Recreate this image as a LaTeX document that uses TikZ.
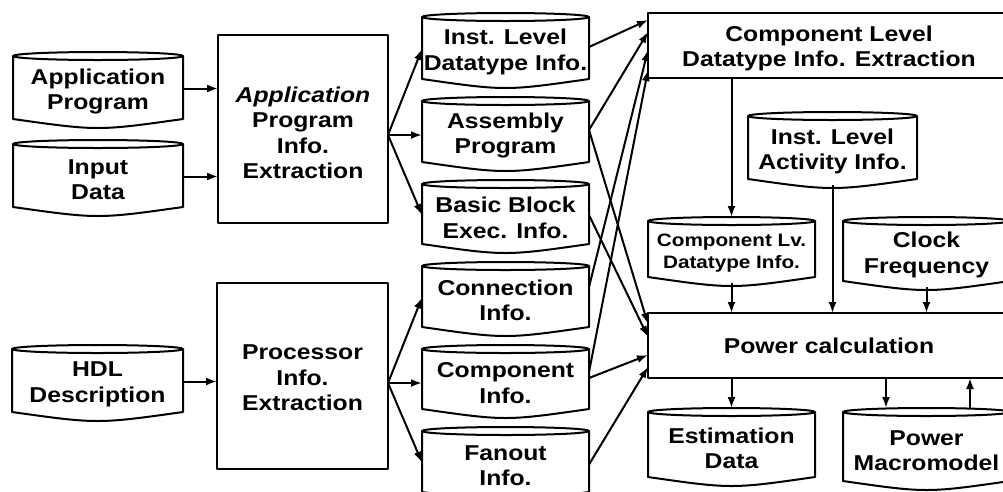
\documentclass[tikz,border=0pt]{standalone}
\usepackage{fontspec}
\newfontfamily\dfont[FakeStretch=1.15]{Liberation Sans}
\usetikzlibrary{arrows.meta,calc}
\tikzset{
  ln/.style={line width=2pt, line join=round},
  arr/.style={ln, -{Latex[length=11pt,width=8pt]}},
  txt/.style={align=center, inner sep=0pt, font=\dfont\bfseries\fontsize{21.5}{25.5}\selectfont},
  smalltxt/.style={align=center, inner sep=0pt, font=\dfont\bfseries\fontsize{18}{21.5}\selectfont},
  cylbase/.style={rectangle, inner sep=0pt, outer sep=0pt},
  boxn/.style={ln, draw, rectangle, inner sep=0pt, outer sep=0pt},
}
% #1 text style, #2 name, #3 x1, #4 y1, #5 x2, #6 y2, #7 text
\newcommand\dbcyl[7][txt]{%
  \pgfmathsetmacro\cylw{#5-#3}%
  \pgfmathsetmacro\cylh{#6-#4}%
  \pgfmathsetmacro\cylrx{(#5-#3)/2}%
  \node[cylbase, minimum width=\cylw pt, minimum height=\cylh pt] (#2) at ({(#3+#5)/2},{(#4+#6)/2}) {};
  \draw[ln] ([yshift=-4pt]#2.north west) -- ([yshift=6pt]#2.south west)
     .. controls ([yshift=-6pt]#2.south) .. ([yshift=6pt]#2.south east)
     -- ([yshift=-4pt]#2.north east);
  \draw[ln] ([yshift=-4pt]#2.north) ellipse [x radius=\cylrx pt, y radius=4pt];
  \node[#1] (#2-t) at ([yshift=-3pt]#2.center) {#7};
}
% #1 name, #2 x1, #3 y1, #4 x2, #5 y2, #6 text shift, #7 text
\newcommand\procbox[7]{%
  \pgfmathsetmacro\bxw{#4-#2}%
  \pgfmathsetmacro\bxh{#5-#3}%
  \node[boxn, minimum width=\bxw pt, minimum height=\bxh pt] (#1) at ({(#2+#4)/2},{(#3+#5)/2}) {};
  \node[txt] (#1-t) at ([yshift=#6]#1.center) {#7};
}
\begin{document}
\begin{tikzpicture}[x=1pt,y=-1pt]
\useasboundingbox (0,0) rectangle (1003,491);
\clip (0,0) rectangle (1003,491);
\fill[white] (0,0) rectangle (1003,491);

% left inputs
\dbcyl{ap}{13}{52}{183}{125}{Application\\Program}
\dbcyl{id}{13}{140}{183}{213}{Input\\Data}
\dbcyl{hdl}{12}{345}{183}{418}{HDL\\Description}

% extraction boxes
\procbox{apx}{218}{35}{388}{223}{-4pt}{{\itshape Application}\\Program\\Info.\\Extraction}
\procbox{pix}{217}{283}{388}{469}{-2pt}{Processor\\Info.\\Extraction}

% middle column
\dbcyl{ild}{422}{13}{589}{85}{Inst. Level\\Datatype Info.}
\dbcyl{asm}{422}{97}{589}{168}{Assembly\\Program}
\dbcyl{bb}{422}{180}{589}{250}{Basic Block\\Exec. Info.}
\dbcyl{con}{422}{262}{589}{333}{Connection\\Info.}
\dbcyl{cmp}{422}{345}{589}{415}{Component\\Info.}
\dbcyl{fan}{422}{427}{589}{498}{Fanout\\Info.}

% right side
\procbox{cle}{648}{13}{1010}{78}{-3pt}{Component Level\\Datatype Info. Extraction}
\dbcyl{iac}{748}{112}{917}{185}{Inst. Level\\Activity Info.}
\dbcyl[smalltxt]{cld}{648}{217}{815}{283}{Component Lv.\\Datatype Info.}
\dbcyl{clk}{843}{217}{1010}{287}{Clock\\Frequency}
\procbox{pwr}{648}{313}{1010}{378}{0pt}{Power calculation}
\dbcyl{est}{648}{408}{815}{483}{Estimation\\Data}
\dbcyl{pmm}{843}{408}{1010}{487}{Power\\Macromodel}

% inputs to extraction
\draw[arr] (ap.east) -- (ap.east -| apx.west);
\draw[arr] (id.east) -- (id.east -| apx.west);
\draw[arr] (hdl.east) -- (hdl.east -| pix.west);

% fan-outs
\coordinate (af) at ([yshift=-6pt]apx.east);
\draw[arr] (af) -- (ild.west);
\draw[arr] (af) -- (af -| asm.west);
\draw[arr] (af) -- (bb.west);
\coordinate (pf) at ([yshift=-7pt]pix.east);
\draw[arr] (pf) -- (con.west);
\draw[arr] (pf) -- (pf -| cmp.west);
\draw[arr] (pf) -- (fan.west);

% to component level extraction
\draw[arr] ([yshift=2pt]ild.east) -- ([yshift=25.5pt]cle.west);
\draw[arr] ([yshift=2.5pt]asm.east) -- ([yshift=13.5pt]cle.west);
\draw[arr] ([yshift=10.5pt]con.east) -- ([yshift=-4.5pt]cle.west);
\draw[arr] ([yshift=8pt]cmp.east) -- ([yshift=-24.5pt]cle.west);

% to power calculation
\draw[arr] ([yshift=2.5pt]asm.east) -- ([yshift=21.5pt]pwr.west);
\draw[arr] (bb.east) -- ([yshift=8.5pt]pwr.west);
\draw[arr] ([yshift=2pt]cmp.east) -- ([yshift=-9.5pt]pwr.west);
\draw[arr] ([yshift=-2pt]fan.east) -- ([yshift=-21.5pt]pwr.west);

% verticals
\draw[arr] (cle.south -| cld.north) -- (cld.north);
\draw[arr] (iac.south) -- (iac.south |- pwr.north);
\draw[arr] (cld.south) -- (cld.south |- pwr.north);
\draw[arr] (clk.south) -- (clk.south |- pwr.north);
\draw[arr] (pwr.south -| est.north) -- (est.north);
\draw[arr] ([xshift=-40.5pt]pmm.north |- pwr.south) -- ([xshift=-40.5pt]pmm.north);
\draw[arr] ([xshift=43.5pt]pmm.north) -- ([xshift=43.5pt]pmm.north |- pwr.south);
\end{tikzpicture}
\end{document}
